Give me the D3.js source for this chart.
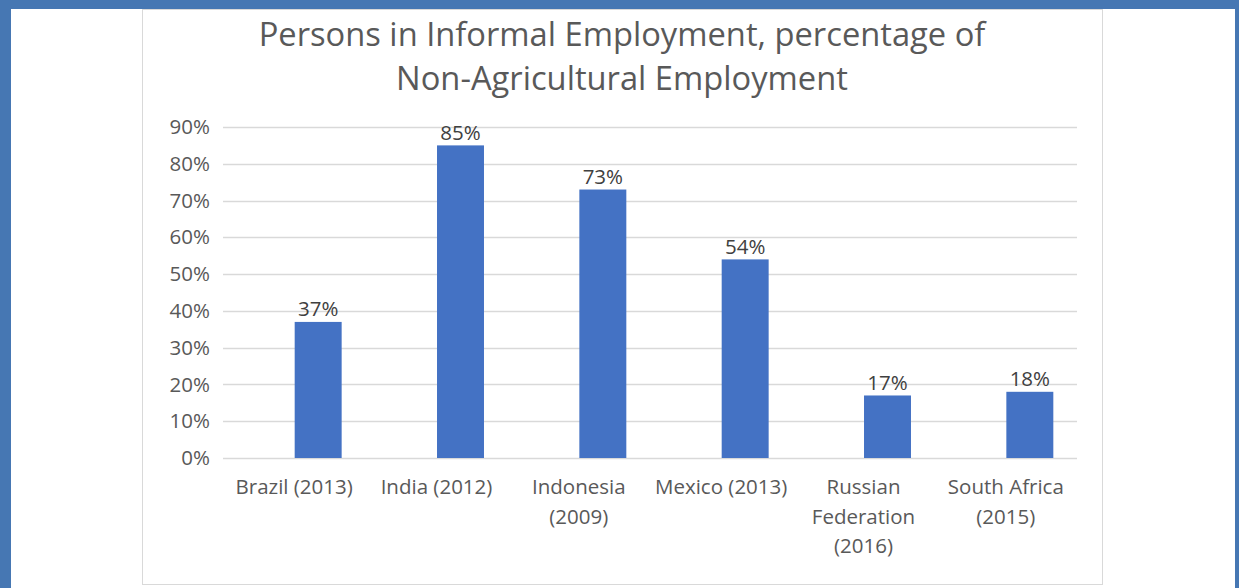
<!DOCTYPE html>
<html>
<head>
<meta charset="utf-8">
<script src="https://cdn.jsdelivr.net/npm/d3@7"></script>
<style>
  html, body { margin: 0; padding: 0; background: #fff; }
  svg { display: block; }
</style>
</head>
<body>
<div id="chart"></div>
<script>
// chart data
var categories = ["Brazil (2013)", "India (2012)", "Indonesia (2009)", "Mexico (2013)", "Russian Federation (2016)", "South Africa (2015)"];
var categoryLines = [["Brazil (2013)"], ["India (2012)"], ["Indonesia", "(2009)"], ["Mexico (2013)"], ["Russian", "Federation", "(2016)"], ["South Africa", "(2015)"]];
var values = [37, 85, 73, 54, 17, 18];
var yTicks = [0, 10, 20, 30, 40, 50, 60, 70, 80, 90];
var titleLines = ["Persons in Informal Employment, percentage of", "Non-Agricultural Employment"];

var W = 1239, H = 588;
var font = "'Open Sans', sans-serif";

var svg = d3.select("#chart")
  .append("svg")
  .attr("width", W)
  .attr("height", H);

// blue frame
svg.append("rect").attr("x", 0).attr("y", 0).attr("width", W).attr("height", H).attr("fill", "#4677b3");
svg.append("rect").attr("x", 11).attr("y", 9).attr("width", 1224).attr("height", H - 9).attr("fill", "#fff");

// chart area border
svg.append("rect")
  .attr("x", 142.5).attr("y", 9.5)
  .attr("width", 960).attr("height", 575)
  .attr("fill", "#fff")
  .attr("stroke", "#d9d9d9")
  .attr("stroke-width", 1);

var plot = {left: 223, right: 1077, top: 127, bottom: 458};

var x = d3.scaleBand()
  .domain(categories)
  .range([plot.left, plot.right])
  .paddingInner(0.67)
  .paddingOuter(0.335);

var y = d3.scaleLinear()
  .domain([0, 90])
  .range([plot.bottom, plot.top]);

// the bars sit a little right of their labels in the original
var barShift = 24;

// gridlines
svg.append("g")
  .selectAll("line")
  .data(yTicks)
  .enter()
  .append("line")
  .attr("x1", plot.left)
  .attr("x2", plot.right)
  .attr("y1", function(d) { return Math.round(y(d)) + 0.5; })
  .attr("y2", function(d) { return Math.round(y(d)) + 0.5; })
  .attr("stroke", "#d9d9d9")
  .attr("stroke-width", 1.5);

// y axis labels
var yAxis = svg.append("g")
  .attr("transform", "translate(" + (plot.left - 13) + ",0)")
  .call(d3.axisLeft(y).tickValues(yTicks).tickSize(0).tickPadding(0).tickFormat(function(d) { return d + "%"; }));
yAxis.select(".domain").remove();
yAxis.selectAll("text")
  .attr("font-family", font)
  .attr("font-size", 20.5)
  .attr("fill", "#595959");

// bars
svg.append("g")
  .selectAll("rect")
  .data(values)
  .enter()
  .append("rect")
  .attr("x", function(d, i) { return x(categories[i]) + barShift; })
  .attr("y", function(d) { return y(d); })
  .attr("width", x.bandwidth())
  .attr("height", function(d) { return plot.bottom - y(d); })
  .attr("fill", "#4472c4");

// value labels
svg.append("g")
  .selectAll("text")
  .data(values)
  .enter()
  .append("text")
  .attr("x", function(d, i) { return x(categories[i]) + barShift + x.bandwidth() / 2; })
  .attr("y", function(d) { return y(d) - 5.5; })
  .attr("text-anchor", "middle")
  .attr("font-family", font)
  .attr("font-size", 20.5)
  .attr("fill", "#404040")
  .text(function(d) { return d + "%"; });

// category labels
var xl = svg.append("g")
  .selectAll("text")
  .data(categories)
  .enter()
  .append("text")
  .attr("x", function(d) { return x(d) + x.bandwidth() / 2; })
  .attr("y", 494)
  .attr("text-anchor", "middle")
  .attr("font-family", font)
  .attr("font-size", 20.5)
  .attr("fill", "#595959");
xl.selectAll("tspan")
  .data(function(d, i) { return categoryLines[i]; })
  .enter()
  .append("tspan")
  .attr("x", function() { return d3.select(this.parentNode).attr("x"); })
  .attr("dy", function(d, i) { return i === 0 ? 0 : 29.5; })
  .text(function(d) { return d; });

// title
svg.append("g")
  .selectAll("text")
  .data(titleLines)
  .enter()
  .append("text")
  .attr("x", 622)
  .attr("y", function(d, i) { return 46 + i * 44; })
  .attr("text-anchor", "middle")
  .attr("font-family", font)
  .attr("font-size", 32.7)
  .attr("fill", "#595959")
  .text(function(d) { return d; });
</script>
</body>
</html>
